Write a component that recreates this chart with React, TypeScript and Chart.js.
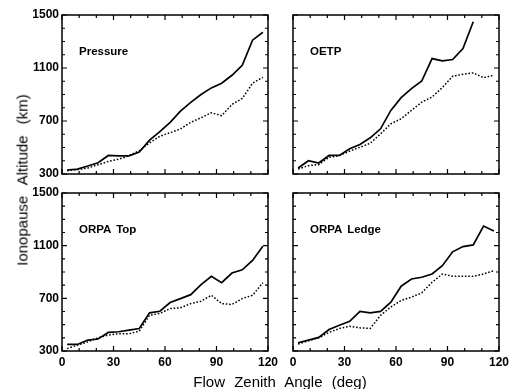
import React, { useEffect, useRef } from "react";
import { Chart, registerables } from "chart.js";
Chart.register(...registerables);

// ---- data ----
const zenithAngles = [3, 9, 15, 21, 27, 33, 39, 45, 51, 57, 63, 69, 75, 81, 87, 93, 99, 105, 111, 117];
const xTickValues = [0, 30, 60, 90, 120];
const yTickValues = [300, 700, 1100, 1500];
const xMinorTicks = [0, 10, 20, 30, 40, 50, 60, 70, 80, 90, 100, 110, 120];
const yMinorTicks = [300, 400, 500, 600, 700, 800, 900, 1000, 1100, 1200, 1300, 1400, 1500];

const pressureSolid = [330, 337, 360, 385, 440, 437, 437, 465, 555, 620, 690, 775, 840, 900, 950, 985, 1045, 1120, 1310, 1370];
const pressureDotted = [325, 333, 345, 370, 395, 412, 437, 475, 535, 585, 612, 640, 690, 725, 762, 740, 825, 870, 985, 1030];
const oetpSolid = [345, 400, 383, 440, 440, 490, 522, 573, 641, 780, 876, 944, 1002, 1171, 1154, 1164, 1247, 1449];
const oetpDotted = [338, 363, 371, 426, 439, 472, 502, 532, 603, 679, 717, 780, 843, 881, 952, 1038, 1053, 1063, 1027, 1045];
const orpaTopSolid = [350, 350, 383, 391, 441, 446, 459, 471, 590, 602, 668, 698, 728, 804, 867, 819, 892, 917, 988, 1096];
const orpaTopDotted = [318, 345, 370, 400, 421, 431, 431, 451, 572, 585, 622, 628, 660, 678, 723, 660, 653, 698, 723, 819];
const orpaLedgeSolid = [363, 383, 403, 463, 496, 526, 601, 589, 601, 671, 792, 847, 860, 885, 948, 1053, 1093, 1106, 1249, 1211];
const orpaLedgeDotted = [353, 378, 400, 441, 471, 488, 476, 471, 571, 634, 684, 709, 742, 822, 885, 867, 867, 867, 885, 910];

const panelLabels = ["Pressure", "OETP", "ORPA Top", "ORPA Ledge"];
const xTitle = "Flow Zenith Angle (deg)";
const yTitle = "Ionopause Altitude (km)";

// ---- layout ----
const W = 515;
const H = 389;
const YW = 40;
const XH = 24;
const panels = [
  { label: panelLabels[0], solid: pressureSolid, dotted: pressureDotted, l: 62, t: 15, r: 268, b: 174, showX: false, showY: true },
  { label: panelLabels[1], solid: oetpSolid, dotted: oetpDotted, l: 293, t: 15, r: 499, b: 174, showX: false, showY: false },
  { label: panelLabels[2], solid: orpaTopSolid, dotted: orpaTopDotted, l: 62, t: 193, r: 268, b: 351, showX: true, showY: true },
  { label: panelLabels[3], solid: orpaLedgeSolid, dotted: orpaLedgeDotted, l: 293, t: 193, r: 499, b: 351, showX: true, showY: false },
];

const tickFont = { family: "'Liberation Sans', Arial, sans-serif", size: 12, weight: "bold" as const };

const framePlugin = {
  id: "frame",
  afterDraw(chart: any) {
    const { ctx, chartArea } = chart;
    const xs = chart.scales.x;
    const ys = chart.scales.y;
    ctx.save();
    ctx.strokeStyle = "#000";
    ctx.lineWidth = 1.5;
    ctx.strokeRect(chartArea.left, chartArea.top, chartArea.right - chartArea.left, chartArea.bottom - chartArea.top);
    ctx.lineWidth = 1.2;
    ctx.beginPath();
    xMinorTicks.forEach((v) => {
      const px = xs.getPixelForValue(v);
      const len = xTickValues.includes(v) ? 5 : 3;
      ctx.moveTo(px, chartArea.bottom);
      ctx.lineTo(px, chartArea.bottom - len);
      ctx.moveTo(px, chartArea.top);
      ctx.lineTo(px, chartArea.top + len);
    });
    yMinorTicks.forEach((v) => {
      const py = ys.getPixelForValue(v);
      const len = yTickValues.includes(v) ? 5 : 3;
      ctx.moveTo(chartArea.left, py);
      ctx.lineTo(chartArea.left + len, py);
      ctx.moveTo(chartArea.right, py);
      ctx.lineTo(chartArea.right - len, py);
    });
    ctx.stroke();
    ctx.restore();
  },
};

function Panel({ p }: { p: (typeof panels)[number] }) {
  const ref = useRef<HTMLCanvasElement | null>(null);
  useEffect(() => {
    if (!ref.current) return;
    const chart = new Chart(ref.current, {
      type: "line",
      data: {
        datasets: [
          {
            data: p.solid.map((v, i) => ({ x: zenithAngles[i], y: v })),
            borderColor: "#000",
            borderWidth: 1.7,
            pointRadius: 0,
            fill: false,
            tension: 0,
          },
          {
            data: p.dotted.map((v, i) => ({ x: zenithAngles[i], y: v })),
            borderColor: "#000",
            borderWidth: 1.5,
            borderDash: [1.6, 1.8],
            pointRadius: 0,
            fill: false,
            tension: 0,
          },
        ],
      },
      options: {
        responsive: false,
        animation: false,
        events: [],
        layout: { padding: { left: p.l - YW, top: p.t, right: W - p.r, bottom: H - p.b - XH } },
        plugins: { legend: { display: false }, tooltip: { enabled: false }, title: { display: false } },
        scales: {
          x: {
            type: "linear",
            min: 0,
            max: 120,
            afterBuildTicks: (s: any) => {
              s.ticks = xTickValues.map((v) => ({ value: v }));
            },
            afterFit: (s: any) => {
              s.height = XH;
            },
            ticks: {
              display: p.showX,
              font: tickFont,
              color: "#000",
              padding: 4,
              maxRotation: 0,
              autoSkip: false,
              callback: (v: any) => String(v),
            },
            grid: { display: false, drawTicks: false },
            border: { display: false },
          },
          y: {
            type: "linear",
            min: 300,
            max: 1500,
            afterBuildTicks: (s: any) => {
              s.ticks = yTickValues.map((v) => ({ value: v }));
            },
            afterFit: (s: any) => {
              s.width = YW;
            },
            ticks: {
              display: p.showY,
              font: tickFont,
              color: "#000",
              padding: 3,
              autoSkip: false,
              callback: (v: any) => String(v),
            },
            grid: { display: false, drawTicks: false },
            border: { display: false },
          },
        },
      },
      plugins: [framePlugin],
    } as any);
    return () => chart.destroy();
  }, [p]);
  return (
    <canvas
      ref={ref}
      width={W}
      height={H}
      style={{ position: "absolute", left: 0, top: 0, width: W, height: H }}
    />
  );
}

const labelStyle: React.CSSProperties = {
  position: "absolute",
  fontFamily: "'Liberation Sans', Arial, sans-serif",
  fontWeight: "bold",
  fontSize: "11.5px",
  lineHeight: "12px",
  wordSpacing: "2px",
  whiteSpace: "nowrap",
  color: "#000",
};

const titleStyle: React.CSSProperties = {
  position: "absolute",
  fontFamily: "'Liberation Sans', Arial, sans-serif",
  fontSize: "15px",
  lineHeight: "15px",
  wordSpacing: "5px",
  whiteSpace: "nowrap",
  color: "#000",
};

export default function App() {
  return (
    <div style={{ position: "fixed", left: 0, top: 0, width: W, height: H, background: "#fff", overflow: "hidden" }}>
      {panels.map((p, i) => (
        <Panel key={i} p={p} />
      ))}
      {panels.map((p, i) => (
        <div key={"l" + i} style={{ ...labelStyle, left: p.l + 17, top: p.t + 30 }}>
          {p.label}
        </div>
      ))}
      <div style={{ ...titleStyle, left: 280, top: 374, transform: "translateX(-50%)" }}>{xTitle}</div>
      <div style={{ ...titleStyle, left: 22, top: 180, wordSpacing: "7px", transform: "translate(-50%, -50%) rotate(-90deg)" }}>
        {yTitle}
      </div>
    </div>
  );
}
